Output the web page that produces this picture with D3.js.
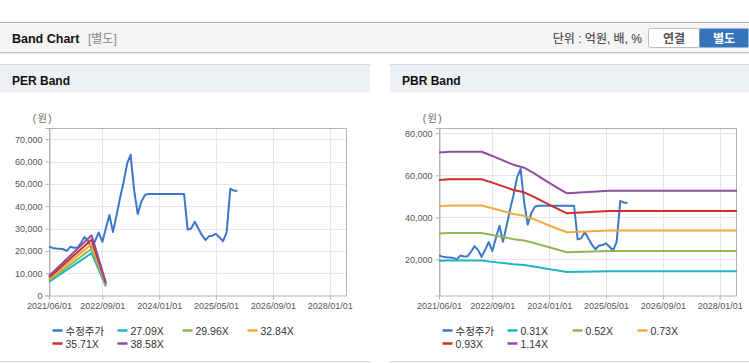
<!DOCTYPE html>
<html>
<head>
<meta charset="utf-8">
<script src="https://cdn.jsdelivr.net/npm/d3@7"></script>
<style>
  body { margin: 0; background: #fff; }
  text { font-family: "Liberation Sans", Arial, "Noto Sans CJK KR", sans-serif; }
</style>
</head>
<body>
<script>
const width = 749;
const height = 364;
const parseDate = d3.timeParse("%Y-%m-%d");

// 수정주가 (monthly)
const priceDates = [
  "2021-06-01","2021-07-01","2021-08-01","2021-09-01","2021-10-01","2021-11-01","2021-12-01",
  "2022-01-01","2022-02-01","2022-03-01","2022-04-01","2022-05-01","2022-06-01","2022-07-01",
  "2022-08-01","2022-09-01","2022-10-01","2022-11-01","2022-12-01","2023-01-01","2023-02-01",
  "2023-03-01","2023-04-01","2023-05-01","2023-06-01","2023-07-01","2023-08-01","2023-09-01",
  "2023-10-01","2023-11-01","2023-12-01","2024-01-01","2024-02-01","2024-03-01","2024-04-01",
  "2024-05-01","2024-06-01","2024-07-01","2024-08-01","2024-09-01","2024-10-01","2024-11-01",
  "2024-12-01","2025-01-01","2025-02-01","2025-03-01","2025-04-01","2025-05-01","2025-06-01",
  "2025-07-01","2025-08-01","2025-09-01","2025-10-01","2025-11-01"
];
const priceValues = [
  21900, 21300, 21000, 20900, 20700, 20000, 21800,
  21400, 21500, 23500, 26200, 24500, 21200, 24500,
  28200, 24000, 30000, 36000, 28400, 36000, 44000,
  50500, 59000, 63000, 47000, 36500, 42000, 45000,
  45500, 45500, 45500, 45500, 45500, 45500, 45500,
  45500, 45500, 45500, 45500, 29500, 30000, 33000,
  30000, 27000, 24800, 26500, 26800, 27600, 26000,
  24300, 28300, 47800, 47000, 46800
];

// PER band
const perBandDates = ["2021-06-01", "2022-06-01", "2022-10-01"];
const perLabels = ["27.09X", "29.96X", "32.84X", "35.71X", "38.58X"];
const perBands = [
  [6100, 18950, 4050],
  [6750, 20950, 4500],
  [7400, 23000, 4950],
  [8050, 25000, 5350],
  [8700, 27000, 5800]
];

// PBR band
const pbrBandDates = [
  "2021-06-01","2021-09-01","2022-06-01","2022-09-01","2023-03-01","2023-06-01",
  "2023-09-01","2023-12-01","2024-03-01","2024-06-01","2025-06-01","2028-05-28"
];
const pbrLabels = ["0.31X", "0.52X", "0.73X", "0.93X", "1.14X"];
const pbrBands = [
  [19300, 19400, 19400, 18800, 17700, 17300, 16500, 15600, 14800, 14000, 14300, 14300],
  [32300, 32500, 32500, 31600, 29600, 29000, 27700, 26200, 24800, 23400, 24000, 24000],
  [45300, 45600, 45600, 44300, 41600, 40700, 38900, 36800, 34800, 32900, 33700, 33700],
  [57800, 58100, 58100, 56500, 53000, 51900, 49500, 46900, 44400, 41900, 43000, 43000],
  [70800, 71200, 71200, 69200, 65000, 63600, 60700, 57500, 54400, 51400, 52700, 52700]
];

const xTickDates = ["2021-06-01", "2022-09-01", "2024-01-01", "2025-05-01", "2026-09-01", "2028-01-01"];
const xDomain = ["2021-06-01", "2028-05-28"];
const perYTicks = [0, 10000, 20000, 30000, 40000, 50000, 60000, 70000];
const pbrYTicks = [20000, 40000, 60000, 80000];

const priceLabel = "수정주가";
const priceColor = "#3a78c9";
const bandColors = ["#1fb3c6", "#8cb952", "#f2aa3c", "#cd2f2c", "#8e4f9e"];

const svg = d3.select("body")
  .append("svg")
  .attr("width", width)
  .attr("height", height);

// ---- top header ----
svg.append("rect").attr("x", 0).attr("y", 22).attr("width", width).attr("height", 31).attr("fill", "#f4f4f4");
svg.append("line").attr("x1", 0).attr("x2", width).attr("y1", 22.5).attr("y2", 22.5).attr("stroke", "#adadad");
svg.append("line").attr("x1", 0).attr("x2", width).attr("y1", 52.5).attr("y2", 52.5).attr("stroke", "#c4c4c4");
svg.append("line").attr("x1", 0).attr("x2", width).attr("y1", 53.5).attr("y2", 53.5).attr("stroke", "#e8e8e8");

svg.append("text").attr("x", 12).attr("y", 42.5)
  .attr("font-size", "12.5px").attr("font-weight", "bold").attr("fill", "#111")
  .text("Band Chart");
svg.append("text").attr("x", 88).attr("y", 42.5)
  .attr("font-size", "12px").attr("fill", "#888")
  .text("[별도]");

svg.append("text").attr("x", 642).attr("y", 42.5)
  .attr("text-anchor", "end").attr("font-size", "12px").attr("fill", "#333")
  .text("단위 : 억원, 배, %");

svg.append("rect").attr("x", 648.5).attr("y", 28.5).attr("width", 51).attr("height", 19).attr("rx", 2)
  .attr("fill", "#fff").attr("stroke", "#bcbcbc");
svg.append("text").attr("x", 674).attr("y", 42.5).attr("text-anchor", "middle")
  .attr("font-size", "12px").attr("font-weight", "bold").attr("fill", "#555").text("연결");
svg.append("rect").attr("x", 699.5).attr("y", 28.5).attr("width", 49).attr("height", 19)
  .attr("fill", "#3574bb");
svg.append("text").attr("x", 724).attr("y", 42.5).attr("text-anchor", "middle")
  .attr("font-size", "12px").attr("font-weight", "bold").attr("fill", "#fff").text("별도");

function drawPanel(opt) {
  const x0 = opt.x0;
  const g = svg.append("g");

  // panel title bar
  g.append("rect").attr("x", x0).attr("y", 64).attr("width", opt.w).attr("height", 28.5).attr("fill", "#edf1f6");
  g.append("line").attr("x1", x0).attr("x2", x0 + opt.w).attr("y1", 64.5).attr("y2", 64.5).attr("stroke", "#d6d6d6");
  g.append("text").attr("x", x0 + 12).attr("y", 85)
    .attr("font-size", "12px").attr("font-weight", "bold").attr("fill", "#111")
    .text(opt.title);
  g.append("line").attr("x1", x0).attr("x2", x0 + opt.w).attr("y1", 361.5).attr("y2", 361.5).attr("stroke", "#d2d2d2");

  const left = x0 + 49, right = x0 + 347, top = 128, bottom = 295.5;

  const x = d3.scaleTime().domain(xDomain.map(parseDate)).range([left, right]);
  const y = d3.scaleLinear().domain(opt.yDomain).range([bottom, top]);

  // grid
  g.append("g").selectAll("line")
    .data(opt.yTicks.filter(d => d > opt.yDomain[0]))
    .join("line")
    .attr("x1", left).attr("x2", right)
    .attr("y1", d => Math.round(y(d)) + 0.5).attr("y2", d => Math.round(y(d)) + 0.5)
    .attr("stroke", "#e6e6e6");
  g.append("g").selectAll("line")
    .data(xTickDates.slice(1).map(parseDate))
    .join("line")
    .attr("x1", d => Math.round(x(d)) + 0.5).attr("x2", d => Math.round(x(d)) + 0.5)
    .attr("y1", top).attr("y2", bottom)
    .attr("stroke", "#e6e6e6");

  g.append("rect").attr("x", left + 0.5).attr("y", top + 0.5)
    .attr("width", right - left - 1).attr("height", bottom - top)
    .attr("fill", "none").attr("stroke", "#b4b4b4");

  // axes
  const xAxis = d3.axisBottom(x)
    .tickValues(xTickDates.map(parseDate))
    .tickFormat(d3.timeFormat("%Y/%m/%d"))
    .tickSize(4).tickPadding(3);
  const yAxis = d3.axisLeft(y)
    .tickValues(opt.yTicks)
    .tickFormat(d3.format(","))
    .tickSize(4).tickPadding(3);

  const xg = g.append("g").attr("transform", `translate(0, ${bottom})`).call(xAxis);
  const yg = g.append("g").attr("transform", `translate(${left + 0.5}, 0)`).call(yAxis);
  [xg, yg].forEach(a => {
    a.select(".domain").attr("stroke", "#b4b4b4");
    a.selectAll(".tick line").attr("stroke", "#b4b4b4");
    a.selectAll(".tick text").attr("fill", "#555").attr("font-size", "9px")
      .attr("font-family", "\"Liberation Sans\", Arial, sans-serif");
  });
  xg.select(".domain").remove();

  g.append("text").attr("x", x0 + 43).attr("y", 121.5).attr("text-anchor", "middle")
    .attr("font-size", "10px").attr("letter-spacing", "1.5px").attr("fill", "#666").text("(원)");

  const line = d3.line().x(d => x(d[0])).y(d => y(d[1]));

  // price first, bands on top
  g.append("path")
    .datum(priceDates.map((d, i) => [parseDate(d), priceValues[i]]))
    .attr("d", line)
    .attr("fill", "none").attr("stroke", priceColor).attr("stroke-width", 2)
    .attr("stroke-linejoin", "round");

  g.append("g").selectAll("path")
    .data(opt.bands)
    .join("path")
    .attr("d", vals => line(opt.bandDates.map((d, i) => [parseDate(d), vals[i]])))
    .attr("fill", "none")
    .attr("stroke", (d, i) => bandColors[i])
    .attr("stroke-width", 2)
    .attr("stroke-linejoin", "round");

  // legend
  const items = [{ label: priceLabel, color: priceColor }]
    .concat(opt.labels.map((l, i) => ({ label: l, color: bandColors[i] })));
  const lg = g.append("g").selectAll("g")
    .data(items)
    .join("g")
    .attr("transform", (d, i) => `translate(${x0 + 52.5 + (i % 4) * 65}, ${330.5 + Math.floor(i / 4) * 13})`);
  lg.append("line").attr("x1", 0).attr("x2", 10).attr("y1", 0).attr("y2", 0)
    .attr("stroke", d => d.color).attr("stroke-width", 2.5);
  lg.append("text").attr("x", 13).attr("y", 4)
    .attr("font-size", "10.5px").attr("fill", "#333")
    .text(d => d.label);
}

drawPanel({
  x0: 0, w: 370, title: "PER Band",
  yDomain: [0, 75000], yTicks: perYTicks,
  bands: perBands, bandDates: perBandDates, labels: perLabels
});

drawPanel({
  x0: 390, w: 359, title: "PBR Band",
  yDomain: [2800, 82500], yTicks: pbrYTicks,
  bands: pbrBands, bandDates: pbrBandDates, labels: pbrLabels
});
</script>
</body>
</html>
